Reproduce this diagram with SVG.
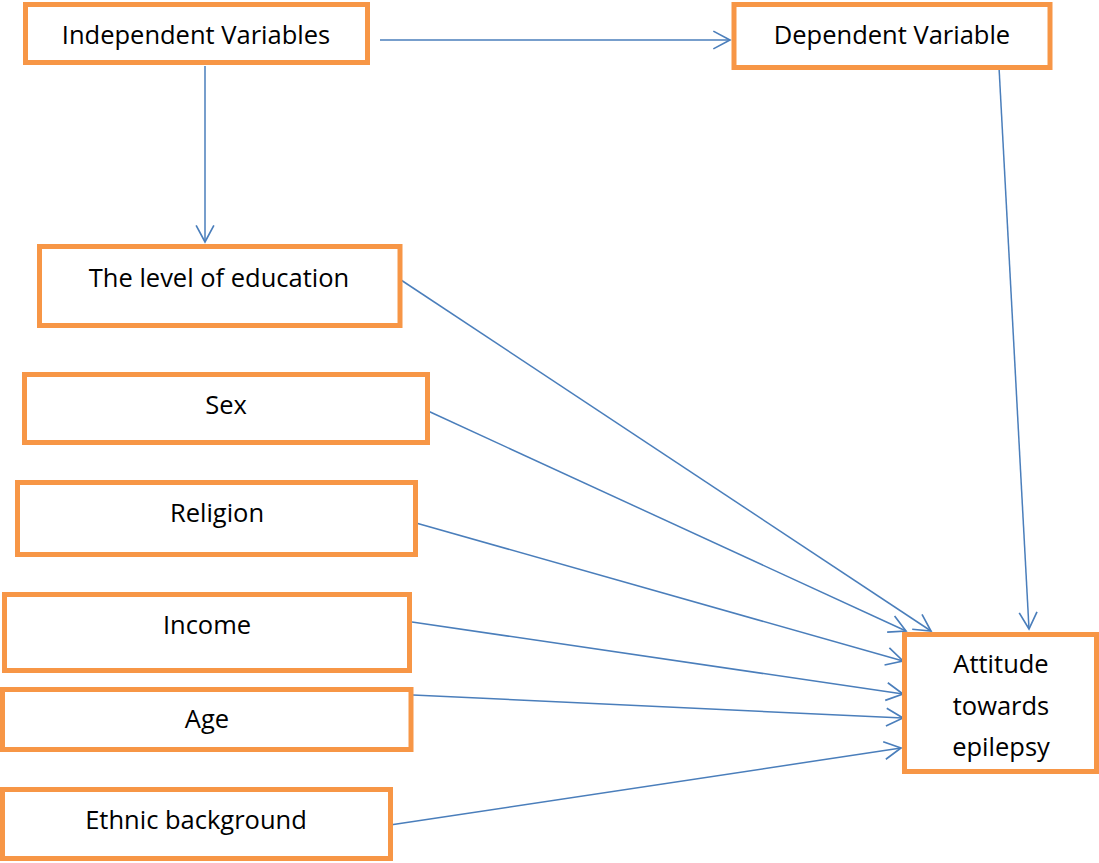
<svg xmlns="http://www.w3.org/2000/svg" width="1099" height="863" viewBox="0 0 1099 863">
<style>
.box{fill:#fff;stroke:#F79646;stroke-width:5}
.t{font-family:"Open Sans","Liberation Sans",Arial,sans-serif;font-size:25.5px;fill:#000;text-anchor:middle}
.c{stroke:#4A7EBB;stroke-width:1.5;fill:none;marker-end:url(#a)}
</style>
<defs>
<marker id="a" markerUnits="userSpaceOnUse" markerWidth="20" markerHeight="20" viewBox="-16 -9 18 18" refX="0" refY="0" orient="auto">
<path d="M-15,-8 L0,0 L-15,8" fill="none" stroke="#4A7EBB" stroke-width="1.5"/>
</marker>
</defs>
<rect width="1099" height="863" fill="#fff"/>
<g id="connectors">
<line class="c" x1="380" y1="40" x2="730" y2="40"/>
<line class="c" x1="205" y1="66" x2="205" y2="242"/>
<line class="c" x1="999" y1="67" x2="1029" y2="629"/>
<line class="c" x1="401" y1="280" x2="931" y2="631"/>
<line class="c" x1="428" y1="411" x2="906" y2="631"/>
<line class="c" x1="416" y1="523" x2="903" y2="661"/>
<line class="c" x1="412" y1="622" x2="903" y2="694"/>
<line class="c" x1="413" y1="695" x2="903" y2="718"/>
<line class="c" x1="390" y1="825" x2="901" y2="748"/>
</g>
<g id="independent"><rect class="box" x="25.5" y="4.5" width="342" height="58"/><text class="t" x="196" y="44">Independent Variables</text></g>
<g id="dependent"><rect class="box" x="734" y="4.5" width="316" height="63"/><text class="t" x="892" y="44">Dependent Variable</text></g>
<g id="education"><rect class="box" x="39.5" y="246.5" width="360.5" height="79"/><text class="t" x="219" y="287">The level of education</text></g>
<g id="sex"><rect class="box" x="24.5" y="374.5" width="403" height="68"/><text class="t" x="226" y="414">Sex</text></g>
<g id="religion"><rect class="box" x="17.5" y="482.5" width="398" height="72"/><text class="t" x="217" y="522">Religion</text></g>
<g id="income"><rect class="box" x="4.5" y="594.5" width="405" height="76"/><text class="t" x="207" y="634">Income</text></g>
<g id="age"><rect class="box" x="2.5" y="689.5" width="408.5" height="60"/><text class="t" x="207" y="728">Age</text></g>
<g id="ethnic"><rect class="box" x="2.5" y="789.5" width="388" height="69"/><text class="t" x="196" y="829">Ethnic background</text></g>
<g id="attitude"><rect class="box" x="904.5" y="634.5" width="192" height="137"/><text class="t" x="1001" y="673">Attitude</text><text class="t" x="1001" y="715">towards</text><text class="t" x="1001" y="756">epilepsy</text></g>
</svg>
